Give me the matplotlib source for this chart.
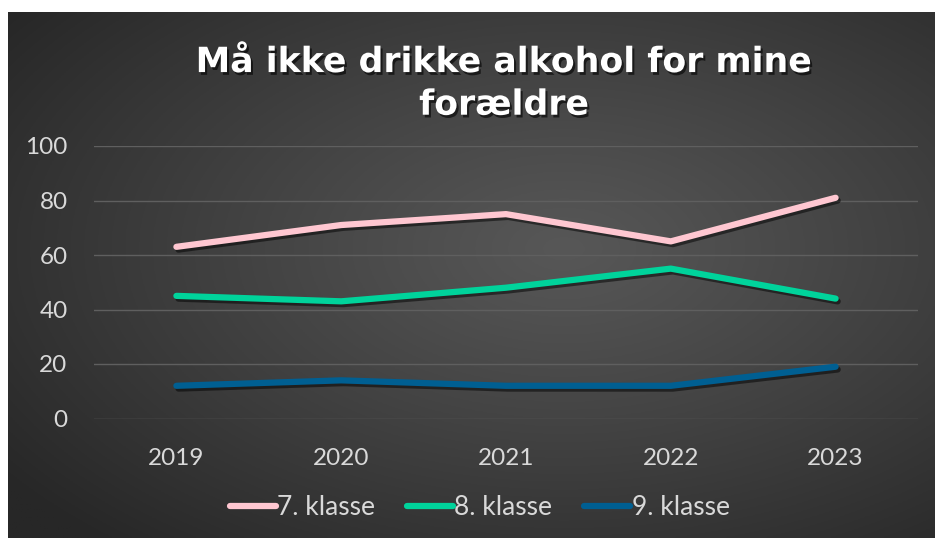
import numpy as np
import matplotlib
matplotlib.use('Agg')
import matplotlib.pyplot as plt
import matplotlib.patheffects as pe

# data
years = ['2019', '2020', '2021', '2022', '2023']
klasse7 = [63, 71, 75, 65, 81]
klasse8 = [45, 43, 48, 55, 44]
klasse9 = [12, 14, 12, 12, 19]
labels = ['7. klasse', '8. klasse', '9. klasse']
colors = ['#ffc7d1', '#00d39b', '#005f92']

W, H = 935, 538
fig = plt.figure(figsize=(W/100, H/100), dpi=100)
fig.patch.set_facecolor('white')

# radial gradient background
bg = fig.add_axes([8/W, 0, (W-8)/W, (H-12)/H], zorder=-5)
nx, ny = 400, 240
xx, yy = np.meshgrid(np.linspace(0, 1, nx), np.linspace(0, 1, ny))
r = np.sqrt(((xx-0.6)/0.75)**2 + ((yy-0.45)/0.75)**2)
r = np.clip(r, 0, 1)
light, dark = 0x57/255, 0x27/255
shade = light + (dark-light)*r**1.1
bg.imshow(np.dstack([shade]*3), aspect='auto', extent=[0, 1, 0, 1], origin='upper')
bg.axis('off')

ax = fig.add_axes([94/W, 119.5/H, 824/W, 272.5/H])
ax.set_facecolor('none')
x = np.arange(len(years))
shadow = [pe.SimpleLineShadow(offset=(1.5, -2), shadow_color='black', alpha=0.5), pe.Normal()]
for vals, lab, c in zip([klasse7, klasse8, klasse9], labels, colors):
    ax.plot(x, vals, color=c, lw=4.5, solid_capstyle='round', solid_joinstyle='round',
            label=lab, path_effects=shadow)

ax.set_xlim(-0.5, 4.5)
ax.set_ylim(0, 100)
ax.set_yticks(range(0, 101, 20))
ax.set_xticks(x)
ax.set_xticklabels(years)
ax.grid(axis='y', color='#5f5f5f', lw=1)
ax.set_axisbelow(True)
for s in ax.spines.values():
    s.set_visible(False)
ax.tick_params(length=0, colors='#d9d9d9', labelsize=17.5)
ax.tick_params(axis='y', pad=19)
ax.tick_params(axis='x', pad=21)
for t in ax.get_xticklabels() + ax.get_yticklabels():
    t.set_fontfamily('Lato')

fig.text(0.539, 0.845, 'Må ikke drikke alkohol for mine\nforældre', ha='center', va='center',
         fontsize=25, fontweight='bold', color='white', linespacing=1.32,
         path_effects=[pe.SimplePatchShadow(offset=(1.5, -2), shadow_rgbFace='black', alpha=0.6),
                       pe.Normal()])

leg = fig.legend(loc='center', bbox_to_anchor=(0.513, 0.056), ncol=3, frameon=False,
                 handlelength=1.75, handletextpad=0.05, columnspacing=1.2,
                 prop={'family': 'Lato', 'size': 19})
for t in leg.get_texts():
    t.set_color('#d9d9d9')
for h in leg.legend_handles:
    h.set_path_effects([])

fig.savefig('out.png', dpi=100, facecolor=fig.get_facecolor())
